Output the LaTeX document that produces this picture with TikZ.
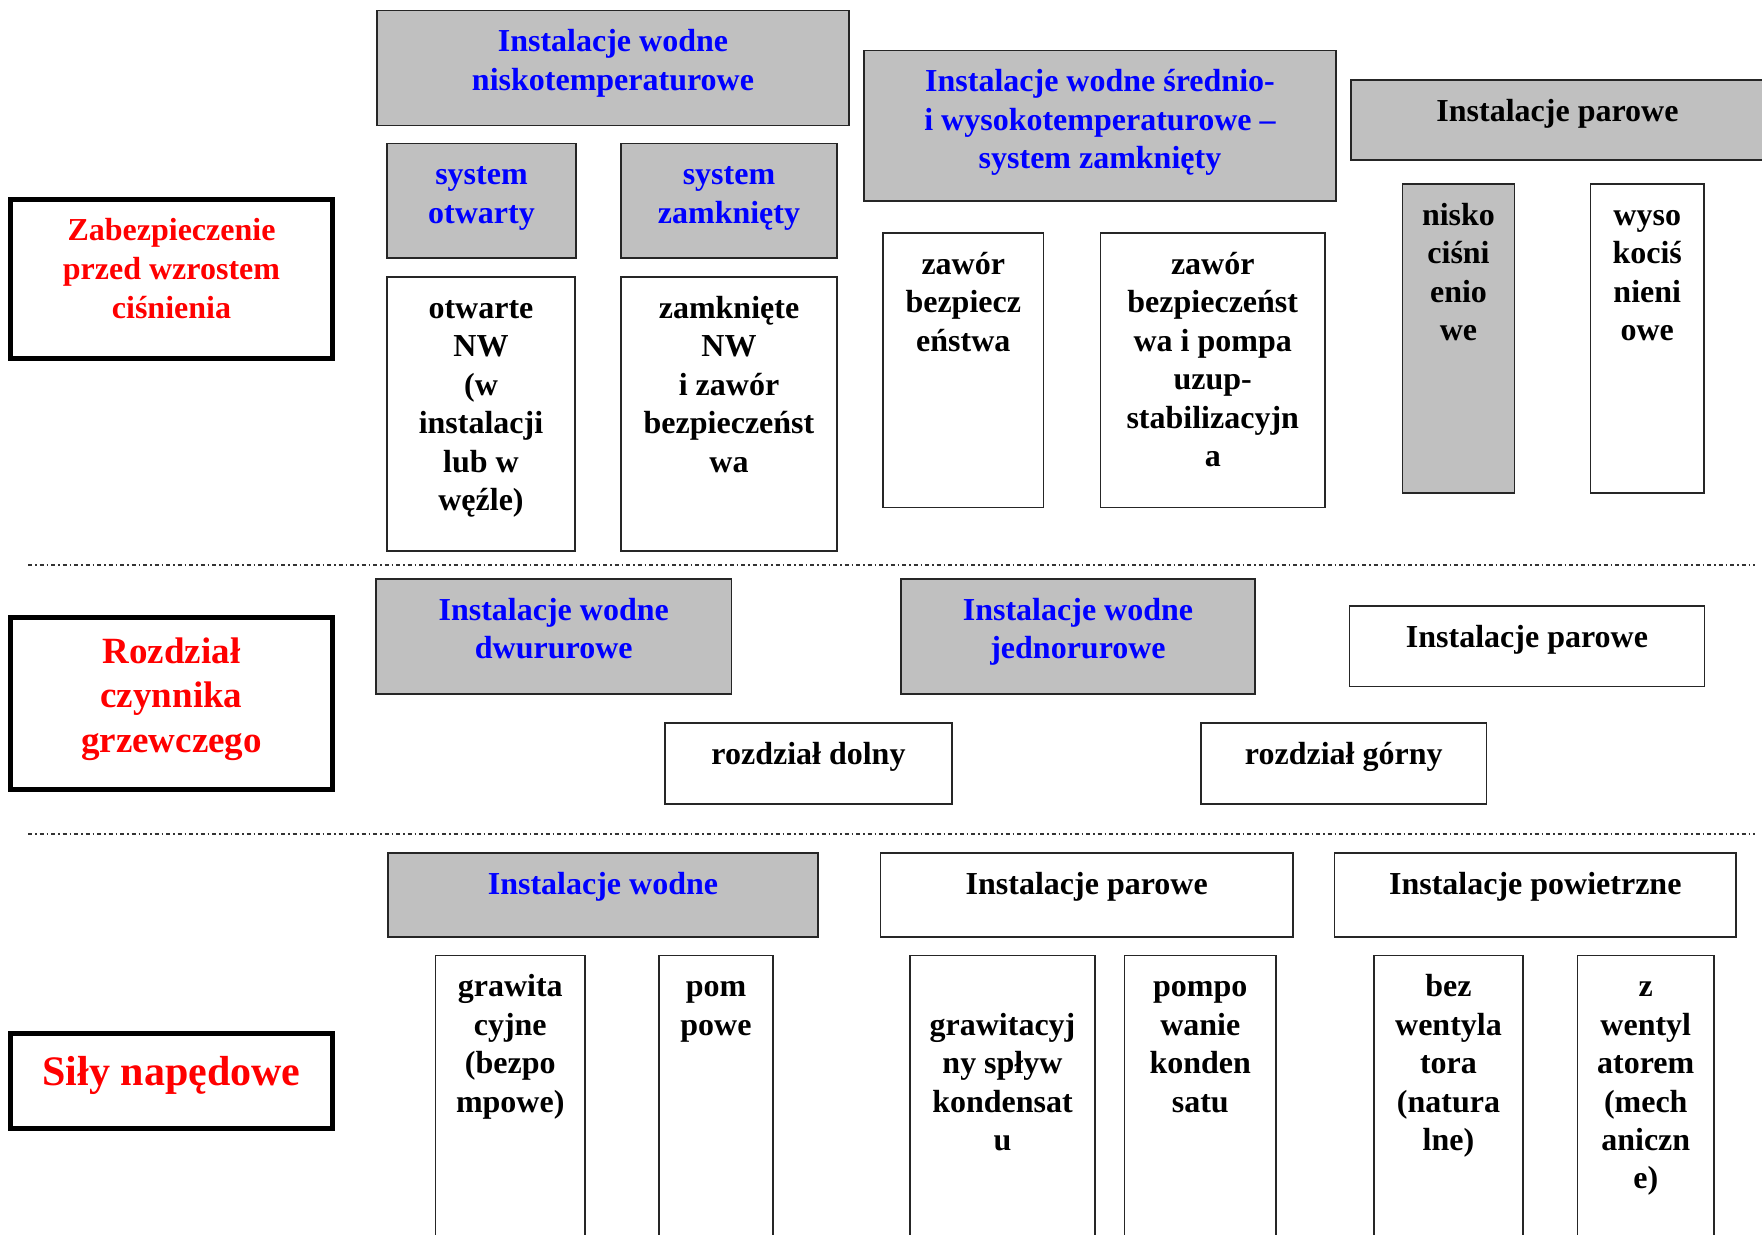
\documentclass[tikz,border=0pt]{standalone}
\usepackage{fontspec}
\setmainfont{Liberation Serif}
\definecolor{boxgrey}{RGB}{192,192,192}
\newdimen\pxu \pxu=0.5pt
\newcommand{\cellpar}[4][7.3pt]{\parbox[c][#3\pxu][t]{#2\pxu}{\centering\vspace*{#1}\strut#4\par}}
\tikzset{%
  bx/.style={draw=black!85, line width=0.8pt, inner sep=0pt, outer sep=0pt, anchor=north west,
    font=\fontsize{16}{19.2}\selectfont\bfseries},
  gb/.style={bx, fill=boxgrey},
  wt/.style={gb, text=blue},
  hd/.style={bx, draw=black, line width=2.5pt, text=red},
  divider/.style={draw=black!80, line width=0.7pt, dash pattern=on 2pt off 1.5pt on 0.75pt off 1.5pt}
}

\begin{document}
\begin{tikzpicture}[x=0.5pt, y=-0.5pt]
        \useasboundingbox (0,0) rectangle (1762,1235);
        % zabezpieczenie
        \node[hd, font=\fontsize{16}{19.5}\selectfont\bfseries] (prot) at (10.5,199.5) {\cellpar[6.8pt]{322}{159}{Zabezpieczenie\\przed wzrostem\\ciśnienia}};
        \node[wt] (lowT) at (377,10.5) {\cellpar{472}{115}{Instalacje wodne\\niskotemperaturowe}};
        \node[wt] (open) at (387,143.5) {\cellpar{189}{114.5}{system\\otwarty}};
        \node[wt] (closed) at (621,143.5) {\cellpar{216}{114.5}{system\\zamknięty}};
        \node[bx] (openNW) at (387,277) {\cellpar{188}{274}{otwarte\\NW\\(w\\instalacji\\lub w\\węźle)}};
        \node[bx] (closedNW) at (621,277) {\cellpar{216}{274}{zamknięte\\NW\\i zawór\\bezpieczeńst\\wa}};
        \node[wt] (highT) at (864,50.5) {\cellpar{472}{150.5}{Instalacje wodne średnio-\\i wysokotemperaturowe --\\system zamknięty}};
        \node[gb] (steamT) at (1351,80) {\cellpar{413}{80}{Instalacje parowe}};
        \node[bx] (valve) at (883,233) {\cellpar{160.5}{274.5}{zawór\\bezpiecz\\eństwa}};
        \node[bx] (valvePump) at (1100.5,233) {\cellpar{224.5}{274.5}{zawór\\bezpieczeńst\\wa i pompa\\uzup-\\stabilizacyjn\\a}};
        \node[gb] (lowP) at (1402.5,184) {\cellpar{112}{309}{nisko\\ciśni\\enio\\we}};
        \node[bx] (highP) at (1590.5,184) {\cellpar{113.5}{309}{wyso\\kociś\\nieni\\owe}};
        \coordinate (sepA) at (28,565);
        \coordinate (sepB) at (1755,565);
        \draw[divider] (sepA) -- (sepB);
        % rozdzial
        \node[hd, font=\fontsize{18.5}{22.25}\selectfont\bfseries] (dist) at (10.5,617) {\cellpar[7.5pt]{322}{172.5}{Rozdział\\czynnika\\grzewczego}};
        \node[wt] (twoPipe) at (376,579) {\cellpar{355.5}{115}{Instalacje wodne\\dwururowe}};
        \node[wt] (onePipe) at (901,579) {\cellpar{354}{115}{Instalacje wodne\\jednorurowe}};
        \node[bx] (steamM) at (1349.5,606) {\cellpar{355}{80.5}{Instalacje parowe}};
        \node[bx] (lower) at (665,723) {\cellpar{287}{81}{rozdział dolny}};
        \node[bx] (upper) at (1201,723) {\cellpar{285.5}{81}{rozdział górny}};
        \coordinate (sepC) at (28,834);
        \coordinate (sepD) at (1755,834);
        \draw[divider] (sepC) -- (sepD);
        % sily napedowe
        \node[hd, font=\fontsize{21}{25.5}\selectfont\bfseries] (drive) at (10.5,1033.5) {\cellpar[8.2pt]{322}{95}{Siły napędowe}};
        \node[wt] (waterB) at (388,853) {\cellpar{430}{84}{Instalacje wodne}};
        \node[bx] (steamB) at (880.5,853) {\cellpar{412.5}{84}{Instalacje parowe}};
        \node[bx] (airB) at (1334.5,853) {\cellpar{401.5}{84}{Instalacje powietrzne}};
        \node[bx] (grav) at (435.5,955.5) {\cellpar{149.5}{282}{grawita\\cyjne\\(bezpo\\mpowe)}};
        \node[bx] (pump) at (659,955.5) {\cellpar{114}{282}{pom\\powe}};
        \node[bx] (gravC) at (910,955.5) {\cellpar{185}{282}{\\grawitacyj\\ny spływ\\kondensat\\u}};
        \node[bx] (pumpC) at (1124.5,955.5) {\cellpar{151.5}{282}{pompo\\wanie\\konden\\satu}};
        \node[bx] (natural) at (1374,955.5) {\cellpar{149}{282}{bez\\wentyla\\tora\\(natura\\lne)}};
        \node[bx] (forced) at (1577.5,955.5) {\cellpar{136.5}{282}{z\\wentyl\\atorem\\(mech\\aniczn\\e)}};
\end{tikzpicture}
\end{document}
